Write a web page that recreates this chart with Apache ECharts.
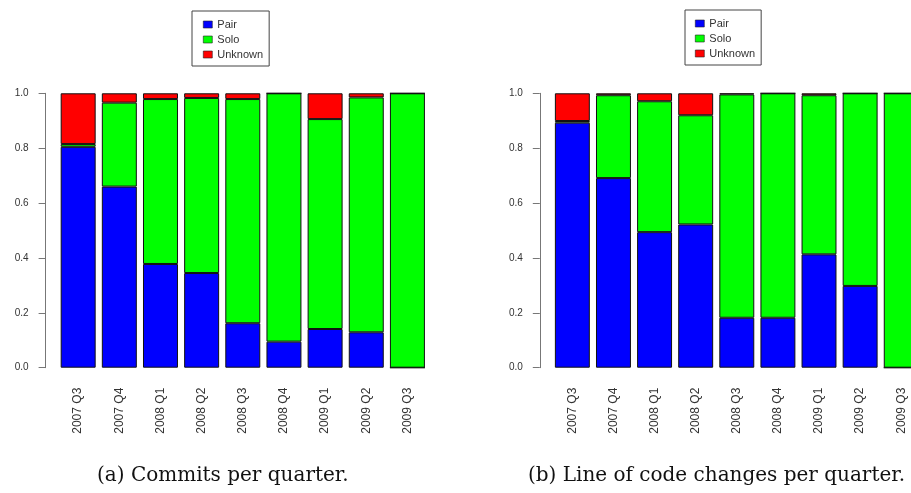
<!DOCTYPE html>
<html><head><meta charset="utf-8">
<script src="https://cdn.jsdelivr.net/npm/echarts@6/dist/echarts.min.js"></script>
<style>html,body{margin:0;padding:0;background:#fff;overflow:hidden}#c{width:925px;height:493px}</style>
</head><body><div id="c"></div>
<script>
const categories = ['2007 Q3','2007 Q4','2008 Q1','2008 Q2','2008 Q3','2008 Q4','2009 Q1','2009 Q2','2009 Q3'];
// (a) Commits per quarter
const commitsPair    = [0.805, 0.660, 0.378, 0.345, 0.162, 0.095, 0.141, 0.129, 0.000];
const commitsSolo    = [0.010, 0.306, 0.601, 0.638, 0.817, 0.905, 0.765, 0.856, 1.000];
const commitsUnknown = [0.185, 0.034, 0.021, 0.017, 0.021, 0.000, 0.094, 0.015, 0.000];
// (b) Line of code changes per quarter
const locPair    = [0.893, 0.691, 0.494, 0.522, 0.182, 0.182, 0.413, 0.298, 0.000];
const locSolo    = [0.006, 0.302, 0.477, 0.398, 0.814, 0.818, 0.580, 0.702, 1.000];
const locUnknown = [0.101, 0.007, 0.029, 0.080, 0.004, 0.000, 0.007, 0.000, 0.000];
const yTicks = [0, 0.2, 0.4, 0.6, 0.8, 1.0];
const seriesNames = ['Pair','Solo','Unknown'];
const captions = ['(a) Commits per quarter.', '(b) Line of code changes per quarter.'];

const colors = {Pair:'#0000ff', Solo:'#00ff00', Unknown:'#ff0000'};
const chart = echarts.init(document.getElementById('c'));

function yAxis(gi){
  return {
    type:'value', gridIndex:gi, min:yTicks[0], max:yTicks[yTicks.length-1], interval:0.2,
    offset:12,
    axisLine:{show:true, lineStyle:{color:'#777', width:1}},
    axisTick:{show:true, length:7, lineStyle:{color:'#777'}},
    axisLabel:{margin:17, fontSize:10, color:'#333', fontFamily:'Liberation Sans', formatter:v=>v.toFixed(1)},
    splitLine:{show:false}
  };
}
function xAxis(gi){
  return {
    type:'category', gridIndex:gi, data:categories,
    axisLine:{show:false}, axisTick:{show:false},
    axisLabel:{rotate:90, margin:20, fontSize:12, color:'#333', fontFamily:'Liberation Sans', interval:0}
  };
}
function mk(name, data, gi){
  return {
    name, type:'bar', stack:'s'+gi, xAxisIndex:gi, yAxisIndex:gi, data,
    barCategoryGap:'15%',
    itemStyle:{color:colors[name], borderColor:'#111', borderWidth:1},
    emphasis:{disabled:true}
  };
}
function legend(left, top, padLeft){
  return {
    orient:'vertical', left, top, data:seriesNames,
    icon:'rect', itemWidth:9, itemHeight:7, itemGap:4,
    padding:[8, 6, 6, padLeft],
    borderColor:'#444', borderWidth:1,
    textStyle:{fontSize:11, lineHeight:10, color:'#333', fontFamily:'Liberation Sans', padding:[0,0,0,0]},
    itemStyle:{borderColor:'#222', borderWidth:0.6},
    selectedMode:false
  };
}
chart.setOption({
  animation:false,
  legend:[legend(192, 11, 11), legend(685, 10, 10)],
  grid:[
    {left:57.6, top:93.3, width:370.4, bottom:125.3},
    {left:551.8, top:93.3, width:370, bottom:125.3}
  ],
  xAxis:[xAxis(0), xAxis(1)],
  yAxis:[yAxis(0), yAxis(1)],
  series:[
    mk('Pair', commitsPair, 0), mk('Solo', commitsSolo, 0), mk('Unknown', commitsUnknown, 0),
    mk('Pair', locPair, 1), mk('Solo', locSolo, 1), mk('Unknown', locUnknown, 1)
  ],
  graphic:[
    {type:'text', left:97, top:466, style:{text:captions[0], font:'20px "DejaVu Serif"', fill:'#111'}},
    {type:'text', left:528, top:466, style:{text:captions[1], font:'20px "DejaVu Serif"', fill:'#111'}}
  ]
});
</script></body></html>
